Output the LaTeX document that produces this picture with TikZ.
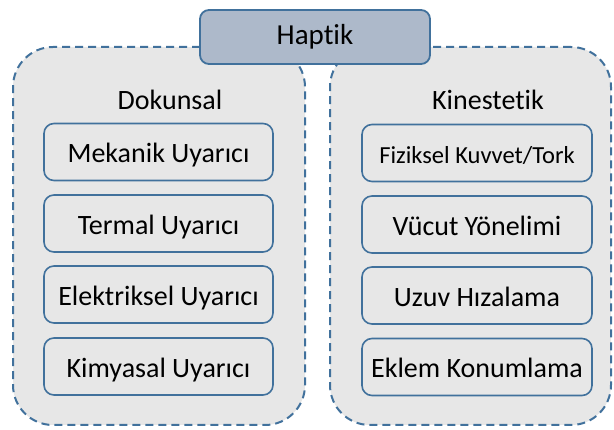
\documentclass[tikz,border=0pt]{standalone}
\usepackage{fontspec}
\setmainfont{Carlito}[Ligatures={NoCommon}]
\definecolor{frame}{HTML}{41719C}
\definecolor{boxfill}{HTML}{E7E7E7}
\definecolor{hapfill}{HTML}{ADB9CA}
\begin{document}
\begin{tikzpicture}[x=1pt,y=-1pt,
  container/.style={draw=frame, line width=2pt, dash pattern=on 8pt off 5pt, fill=boxfill, rounded corners=40pt, inner sep=0pt},
  itembox/.style={draw=frame, line width=1.6pt, fill=boxfill, rounded corners=10pt, minimum height=57pt, inner sep=0pt, text height=22pt, text depth=0pt, font=\fontsize{28}{33}\selectfont},
  topbox/.style={draw=frame, line width=1.8pt, fill=hapfill, rounded corners=9pt, minimum width=230pt, minimum height=54pt, inner sep=0pt, text height=20pt, text depth=4pt, font=\fontsize{29}{34}\selectfont},
  heading/.style={inner sep=0pt, anchor=base, font=\fontsize{28}{33}\selectfont}]
\useasboundingbox (0,0) rectangle (614,430);
\node[container, minimum width=292pt, minimum height=378pt] (L) at (159,236) {};
\node[container, minimum width=281pt, minimum height=378pt] (R) at (470.5,236) {};
\node[topbox] (H) at (315,37) {Haptik};
\node[heading] (D) at (170,110) {Dokunsal};
\node[heading] (K) at (488,110) {Kinestetik};
\node[itembox, minimum width=229pt] (m) at (158.5,152) {Mekanik Uyarıcı};
\node[itembox, minimum width=229pt] (t) at (158.5,223.5) {Termal Uyarıcı};
\node[itembox, minimum width=229pt] (e) at (158.5,294.5) {Elektriksel Uyarıcı};
\node[itembox, minimum width=229pt] (k) at (158.5,366.5) {Kimyasal Uyarıcı};
\node[itembox, minimum width=230pt, text height=21pt, text depth=0pt, font=\fontsize{24.5}{29}\selectfont] (f) at (477,153) {Fiziksel Kuvvet/Tork};
\node[itembox, minimum width=230pt] (v) at (477,224.5) {Vücut Yönelimi};
\node[itembox, minimum width=230pt] (u) at (477,295.5) {Uzuv Hızalama};
\node[itembox, minimum width=230pt] (ek) at (477,367) {Eklem Konumlama};
\end{tikzpicture}
\end{document}
